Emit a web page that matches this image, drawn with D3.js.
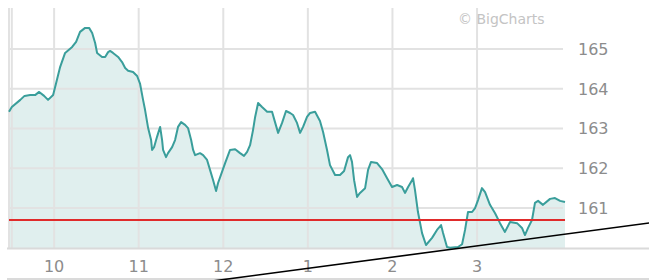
<!DOCTYPE html>
<html>
<head>
<meta charset="utf-8">
<script src="https://cdn.jsdelivr.net/npm/d3@7"></script>
<style>
  html, body { margin: 0; padding: 0; background: #fff; }
  svg { display: block; }
  text { font-family: "DejaVu Sans", Verdana, sans-serif; }
</style>
</head>
<body>
<script>
// ---- data (minutes after 9:30, price) ----
const minutes = [-2,0,6,9,13,16.5,19.4,22.9,25.7,29.3,31.4,34.3,37.8,42.8,45.6,48.4,52,54.8,57,59.1,60.5,64,66.2,68.3,69.7,71.8,75.4,78.2,80.4,82.5,86,88.9,91,93.1,94.5,96.7,98.8,99.5,100.9,103,105.2,106.6,107.3,109.4,110.8,113.7,115.8,117.9,120.1,122.9,125,127.2,128.6,130,133.5,135.7,138.5,140.6,142.8,144.9,146.3,149.1,151.3,154.8,158.4,161.9,164.7,166.9,169,171.1,172.6,174.7,177.5,181.1,184.6,186.7,188.9,191.7,194.5,197.4,199.5,202.3,204.5,206.6,209.4,211.6,215.1,218.6,220.8,223.6,225.7,229.3,232.8,235.7,238.5,239.9,241.3,242.8,244.9,247,250.6,252.7,254.8,259.1,262.6,266.2,269.7,273.3,276.8,278.9,281.1,283.9,284.6,286,288.1,291,293.8,298.1,301.6,304.5,305.9,308.7,310.8,316.5,319.4,321.5,323.6,326.5,328.6,330.7,333.5,335.7,339.2,342.8,346.3,349.8,353.4,358.4,361.9,364,366.2,369,371.1,373.3,376.8,381.8,385.3,388.9,392.4];
const prices = [163.42,163.54,163.72,163.82,163.84,163.84,163.92,163.82,163.72,163.84,164.14,164.55,164.90,165.05,165.18,165.43,165.53,165.53,165.40,165.15,164.90,164.80,164.80,164.92,164.95,164.90,164.80,164.67,164.52,164.45,164.42,164.32,164.12,163.72,163.47,163.01,162.71,162.46,162.53,162.79,163.04,162.71,162.46,162.28,162.38,162.53,162.71,163.04,163.16,163.09,163.01,162.71,162.46,162.33,162.38,162.33,162.21,161.96,161.70,161.43,161.63,161.91,162.13,162.46,162.48,162.38,162.31,162.41,162.58,162.96,163.29,163.64,163.54,163.42,163.42,163.16,162.89,163.14,163.44,163.39,163.34,163.14,162.89,163.04,163.29,163.39,163.42,163.19,162.91,162.46,162.08,161.83,161.83,161.93,162.28,162.33,162.16,161.70,161.28,161.38,161.50,161.96,162.16,162.13,161.98,161.75,161.53,161.58,161.53,161.38,161.53,161.70,161.75,161.45,160.90,160.37,160.07,160.25,160.45,160.57,160.37,160.02,160.00,160.02,160.09,160.45,160.90,160.90,161.00,161.20,161.50,161.40,161.08,160.87,160.62,160.40,160.65,160.62,160.50,160.32,160.50,160.70,161.13,161.18,161.08,161.23,161.25,161.18,161.15];

const xTickMinutes = [30, 90, 150, 210, 270, 330];
const xTickLabels = ["10", "11", "12", "1", "2", "3"];
const yTicks = [161, 162, 163, 164, 165];
const gridMinutes = [0, 30, 90, 150, 210, 270, 330];
const referenceLevel = 160.7;               // red horizontal line
const trendMinutes = [137, 460];            // black trend line
const trendPrices = [159.14, 160.66];
const credit = "\u00A9 BigCharts";

// ---- layout ----
const W = 649, H = 280;
const plotLeft = 9, plotRight = 565, plotTop = 8, plotBottom = 248;

const x = d3.scaleLinear().domain([-2, 392.4]).range([plotLeft, plotRight]);
const y = d3.scaleLinear().domain([159.995, 166.03]).range([plotBottom, plotTop]);

const svg = d3.select("body").append("svg").attr("width", W).attr("height", H);

const data = minutes.map((m, i) => ({ m, p: prices[i] }));

// area fill
svg.append("path")
  .datum(data)
  .attr("fill", "#e0efee")
  .attr("d", d3.area().x(d => x(d.m)).y0(plotBottom).y1(d => y(d.p)));

// grid lines
const grid = svg.append("g").attr("stroke", "#e2e2e2").attr("stroke-width", 2);
grid.selectAll("line.v").data(gridMinutes).join("line")
  .attr("x1", d => x(d)).attr("x2", d => x(d))
  .attr("y1", plotTop).attr("y2", plotBottom);
grid.selectAll("line.h").data(yTicks).join("line")
  .attr("x1", plotLeft).attr("x2", 563)
  .attr("y1", d => y(d)).attr("y2", d => y(d));
// left border
svg.append("line").attr("x1", plotLeft).attr("x2", plotLeft)
  .attr("y1", plotTop).attr("y2", plotBottom)
  .attr("stroke", "#e2e2e2").attr("stroke-width", 2);
// axis baselines
svg.append("line").attr("x1", 7).attr("x2", W).attr("y1", plotBottom + 0.5).attr("y2", plotBottom + 0.5)
  .attr("stroke", "#dadada").attr("stroke-width", 2);
svg.append("line").attr("x1", 7).attr("x2", W).attr("y1", 279).attr("y2", 279)
  .attr("stroke", "#dadada").attr("stroke-width", 2);

// price line
svg.append("path")
  .datum(data)
  .attr("fill", "none")
  .attr("stroke", "#3a9e9b")
  .attr("stroke-width", 2)
  .attr("stroke-linejoin", "round")
  .attr("d", d3.line().x(d => x(d.m)).y(d => y(d.p)));

// reference (red) line
svg.append("line")
  .attr("x1", plotLeft).attr("x2", plotRight)
  .attr("y1", y(referenceLevel)).attr("y2", y(referenceLevel))
  .attr("stroke", "#e02b2b").attr("stroke-width", 2);

// y labels
svg.append("g").selectAll("text").data(yTicks).join("text")
  .attr("x", 578).attr("y", d => y(d) + 6)
  .attr("fill", "#8c8c8c").attr("font-size", 16)
  .text(d => d);

// x labels
svg.append("g").selectAll("text").data(xTickMinutes).join("text")
  .attr("x", d => x(d)).attr("y", 272)
  .attr("text-anchor", "middle")
  .attr("fill", "#8c8c8c").attr("font-size", 16)
  .text((d, i) => xTickLabels[i]);

// credit
svg.append("text").attr("x", 458).attr("y", 24)
  .attr("fill", "#c4c4c4").attr("font-size", 14)
  .text(credit);

// trend line
svg.append("line")
  .attr("x1", x(trendMinutes[0])).attr("y1", y(trendPrices[0]))
  .attr("x2", x(trendMinutes[1])).attr("y2", y(trendPrices[1]))
  .attr("stroke", "#000").attr("stroke-width", 1.6);
</script>
</body>
</html>
